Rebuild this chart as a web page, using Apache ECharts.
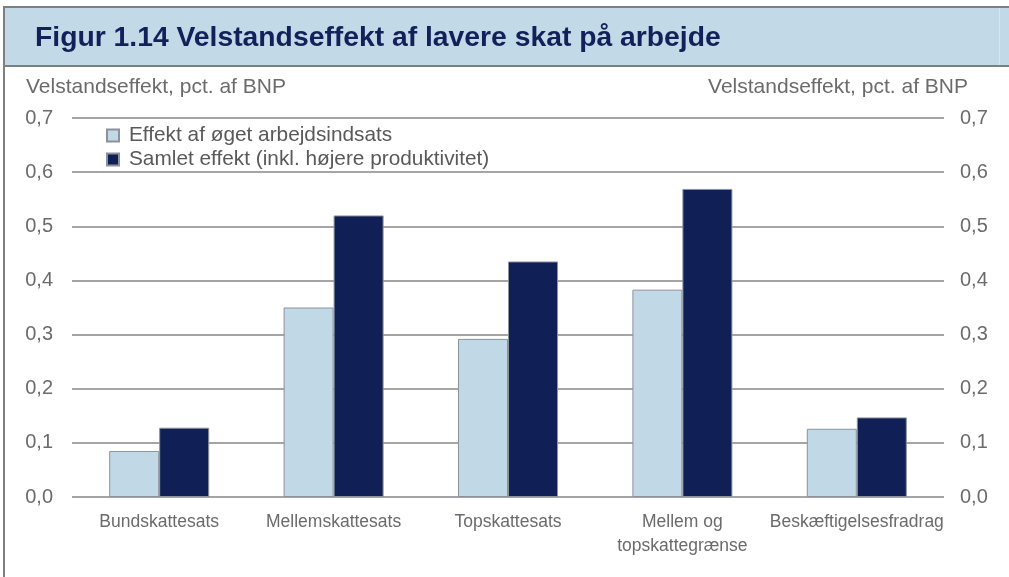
<!DOCTYPE html>
<html>
<head>
<meta charset="utf-8">
<script src="https://cdn.jsdelivr.net/npm/echarts@6/dist/echarts.min.js"></script>
<style>
html,body{margin:0;padding:0;background:#fff;}
#chart{width:1009px;height:577px;}
</style>
</head>
<body>
<div id="chart"></div>
<script>
var categories = ['Bundskattesats', 'Mellemskattesats', 'Topskattesats', 'Mellem og\ntopskattegrænse', 'Beskæftigelsesfradrag'];
var seriesNames = ['Effekt af øget arbejdsindsats', 'Samlet effekt (inkl. højere produktivitet)'];
var arbejdsindsats = [0.085, 0.350, 0.292, 0.383, 0.126];
var samlet = [0.128, 0.520, 0.435, 0.569, 0.147];
var yTicks = ['0,0', '0,1', '0,2', '0,3', '0,4', '0,5', '0,6', '0,7'];
var titleText = 'Figur 1.14 Velstandseffekt af lavere skat på arbejde';
var axisTitle = 'Velstandseffekt, pct. af BNP';

var FONT = '"Liberation Sans", Arial, sans-serif';
var gray = '#6b6b6b';
var chart = echarts.init(document.getElementById('chart'), null, {renderer: 'canvas'});

function tickLabel(v) {
  var i = Math.round(v * 10);
  return yTicks[i] !== undefined ? yTicks[i] : '';
}

var yAxisBase = {
  type: 'value', min: 0, max: 0.7, interval: 0.1,
  axisLine: {show: false}, axisTick: {show: false},
  axisLabel: {formatter: tickLabel, color: gray, fontSize: 20, fontFamily: FONT}
};

chart.setOption({
  animation: false,
  backgroundColor: '#fff',
  graphic: [
    {type: 'rect', shape: {x: 4, y: 7, width: 1005, height: 59}, style: {fill: '#c2d9e7'}, z: 0},
    {type: 'line', shape: {x1: 3, y1: 7, x2: 1009, y2: 7}, style: {stroke: '#7f7f7f', lineWidth: 2}, z: 1},
    {type: 'line', shape: {x1: 4, y1: 66, x2: 1009, y2: 66}, style: {stroke: '#7f7f7f', lineWidth: 2}, z: 1},
    {type: 'line', shape: {x1: 4, y1: 6, x2: 4, y2: 577}, style: {stroke: '#7f7f7f', lineWidth: 2}, z: 1},
    {type: 'line', shape: {x1: 999.5, y1: 8, x2: 999.5, y2: 65}, style: {stroke: '#d4e5ef', lineWidth: 1}, z: 1}
  ],
  title: [
    {text: titleText, left: 30, top: 19, textStyle: {color: '#13205a', fontSize: 28.3, fontWeight: 'bold', fontFamily: FONT}},
    {text: axisTitle, left: 21, top: 72, textStyle: {color: gray, fontSize: 21, fontWeight: 'normal', fontFamily: FONT}},
    {text: axisTitle, right: 36, top: 72, textStyle: {color: gray, fontSize: 21, fontWeight: 'normal', fontFamily: FONT}}
  ],
  legend: {
    orient: 'vertical', left: 101, top: 120, itemWidth: 12, itemHeight: 12, itemGap: 3,
    icon: 'rect',
    textStyle: {color: '#595959', fontSize: 20.8, fontFamily: FONT, padding: [0, 0, 0, 5]},
    data: seriesNames
  },
  grid: {left: 72, right: 65, top: 118, bottom: 80, containLabel: false},
  xAxis: {
    type: 'category', data: categories,
    axisLine: {show: false}, axisTick: {show: false},
    axisLabel: {color: gray, fontSize: 17.5, fontFamily: FONT, lineHeight: 24, margin: 13, interval: 0}
  },
  yAxis: [
    Object.assign({}, yAxisBase, {position: 'left', splitLine: {show: true, lineStyle: {color: '#878787', width: 1.5}},
      axisLabel: Object.assign({}, yAxisBase.axisLabel, {margin: 19})}),
    Object.assign({}, yAxisBase, {position: 'right', splitLine: {show: false},
      axisLabel: Object.assign({}, yAxisBase.axisLabel, {margin: 16})})
  ],
  series: [
    {name: seriesNames[0], type: 'bar', data: arbejdsindsats, barWidth: 50, barGap: '0%',
      itemStyle: {color: '#c1d9e6', borderColor: '#8c929b', borderWidth: 1}},
    {name: seriesNames[1], type: 'bar', data: samlet, barWidth: 50,
      itemStyle: {color: '#111f57', borderColor: '#8c929b', borderWidth: 1}}
  ]
});
</script>
</body>
</html>
